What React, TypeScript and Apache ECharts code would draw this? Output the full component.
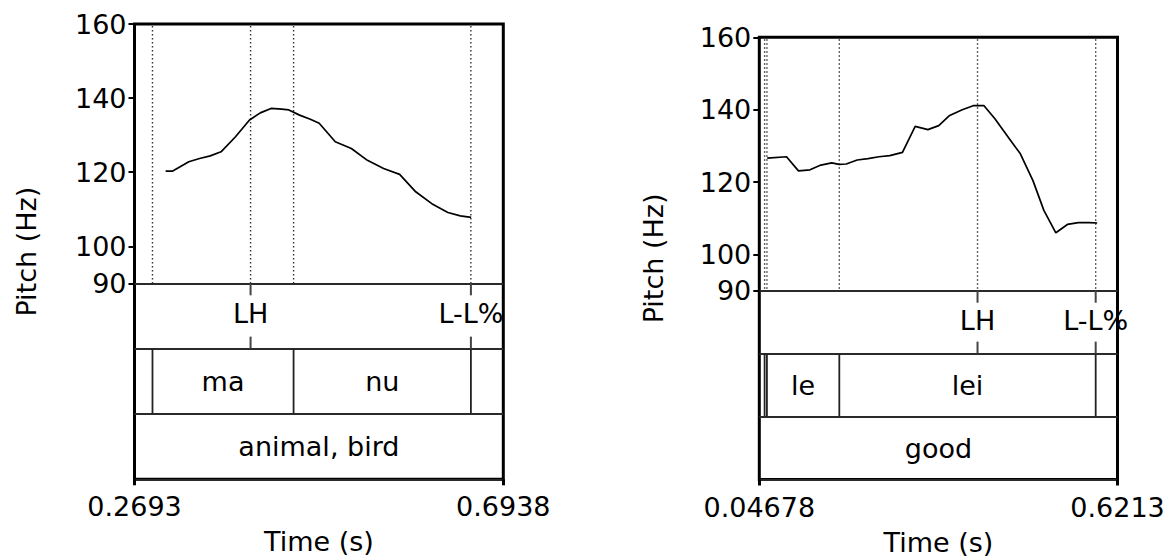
import React, { useEffect, useRef } from 'react';
import * as echarts from 'echarts';

const FONT = "'DejaVu Sans', 'Liberation Sans', Arial, sans-serif";
const FS = 27;

// ---------- shared ----------
const pitchRange = [90, 160];
const pitchTickValues = [90, 100, 120, 140, 160];
const pitchAxisTitle = 'Pitch (Hz)';
const timeAxisTitle = 'Time (s)';

// ---------- left panel ----------
const leftTimeRange = [0.2693, 0.6938];
const leftTimeTickLabels = ['0.2693', '0.6938'];
const leftPitchTime = [
  0.3051, 0.3133, 0.3318, 0.3442, 0.3565, 0.3689, 0.3853, 0.4017, 0.4141, 0.4264,
  0.4387, 0.447, 0.4593, 0.4717, 0.4819, 0.5004, 0.5189, 0.5374, 0.556, 0.5745,
  0.593, 0.6115, 0.63, 0.6444, 0.6568,
];
const leftPitchHz = [
  120.3, 120.3, 122.8, 123.7, 124.4, 125.5, 129.5, 134.1, 136.0, 137.2,
  137.0, 136.8, 135.4, 134.3, 133.2, 128.2, 126.4, 123.2, 121.0, 119.4,
  114.7, 111.5, 109.1, 108.2, 107.8,
];
const leftToneTimes = [0.4029, 0.6565];
const leftToneLabels = ['LH', 'L-L%'];
const leftSyllableBounds = [0.29, 0.4524, 0.6565];
const leftSyllableLabels = ['ma', 'nu'];
const leftWordLabel = 'animal, bird';

// ---------- right panel ----------
const rightTimeRange = [0.04678, 0.6213];
const rightTimeTickLabels = ['0.04678', '0.6213'];
const rightPitchTime = [
  0.0595, 0.0904, 0.1096, 0.1281, 0.1455, 0.163, 0.1747, 0.1863, 0.2038, 0.2212,
  0.2387, 0.2561, 0.2764, 0.2968, 0.3172, 0.3346, 0.3521, 0.3723, 0.3898, 0.4072,
  0.4247, 0.4481, 0.4655, 0.4857, 0.5032, 0.5224, 0.541, 0.5585, 0.5759, 0.5887,
];
const rightPitchHz = [
  126.6, 127.0, 123.1, 123.4, 124.7, 125.3, 124.9, 125.0, 126.1, 126.5,
  127.0, 127.3, 128.2, 135.4, 134.5, 135.6, 138.4, 140.0, 141.1, 141.1,
  137.5, 131.9, 127.8, 120.4, 112.2, 106.0, 108.3, 108.8, 108.8, 108.7,
];
const rightToneTimes = [0.3968, 0.5863];
const rightToneLabels = ['LH', 'L-L%'];
const rightSyllableBounds = [0.0553, 0.059, 0.1751, 0.5863];
const rightSyllableLabels = ['', 'le', 'lei'];
const rightWordLabel = 'good';

type Panel = {
  range: number[];
  tickLabels: string[];
  pitchTime: number[];
  pitchHz: number[];
  toneTimes: number[];
  toneLabels: string[];
  syllBounds: number[];
  syllLabels: string[];
  word: string;
  box: { left: number; width: number; top: number; mid: number; bottom: number; titleGap: number };
};

const panels: Panel[] = [
  {
    range: leftTimeRange, tickLabels: leftTimeTickLabels,
    pitchTime: leftPitchTime, pitchHz: leftPitchHz,
    toneTimes: leftToneTimes, toneLabels: leftToneLabels,
    syllBounds: leftSyllableBounds, syllLabels: leftSyllableLabels, word: leftWordLabel,
    box: { left: 134.5, width: 368.8, top: 24, mid: 283.3, bottom: 479.3, titleGap: 95 },
  },
  {
    range: rightTimeRange, tickLabels: rightTimeTickLabels,
    pitchTime: rightPitchTime, pitchHz: rightPitchHz,
    toneTimes: rightToneTimes, toneLabels: rightToneLabels,
    syllBounds: rightSyllableBounds, syllLabels: rightSyllableLabels, word: rightWordLabel,
    box: { left: 759.3, width: 358.2, top: 37.3, mid: 290.7, bottom: 479.5, titleGap: 92 },
  },
];

const textStyle = (text: string, size = FS) => ({
  text,
  fill: '#000',
  fontSize: size,
  fontFamily: FONT,
  align: 'center',
  verticalAlign: 'middle',
  textAlign: 'center',
  textVerticalAlign: 'middle',
});

function buildOption() {
  const grid: any[] = [];
  const xAxis: any[] = [];
  const yAxis: any[] = [];
  const series: any[] = [];

  panels.forEach((p, pi) => {
    const b = p.box;
    const gFrame = pi * 3;
    const gPitch = pi * 3 + 1;
    const gTier = pi * 3 + 2;

    grid.push({
      left: b.left, top: b.top, width: b.width, height: b.bottom - b.top,
      show: true, borderColor: '#000', borderWidth: 3, backgroundColor: 'transparent',
      containLabel: false, outerBoundsMode: 'none',
    });
    grid.push({
      left: b.left, top: b.top, width: b.width, height: b.mid - b.top,
      containLabel: false, outerBoundsMode: 'none',
    });
    grid.push({
      left: b.left, top: b.mid, width: b.width, height: b.bottom - b.mid,
      containLabel: false, outerBoundsMode: 'none',
    });

    const nearestLabel = (v: number) => {
      let best = 0;
      p.range.forEach((r, i) => {
        if (Math.abs(r - v) < Math.abs(p.range[best] - v)) best = i;
      });
      return p.tickLabels[best];
    };

    // frame axes
    xAxis.push({
      type: 'value', gridIndex: gFrame, min: p.range[0], max: p.range[1],
      axisLine: { show: false }, splitLine: { show: false },
      axisTick: { show: true, customValues: p.range, length: 6, lineStyle: { color: '#000', width: 3 } },
      axisLabel: {
        show: true, customValues: p.range, formatter: (v: number) => nearestLabel(v),
        fontSize: FS, fontFamily: FONT, color: '#000', margin: 14,
        showMinLabel: true, showMaxLabel: true, hideOverlap: false,
      },
      name: timeAxisTitle, nameLocation: 'middle', nameGap: 49,
      nameTextStyle: { fontSize: FS, fontFamily: FONT, color: '#000' },
    });
    yAxis.push({
      type: 'value', gridIndex: gFrame, min: 0, max: 1,
      axisLine: { show: false }, axisTick: { show: false }, axisLabel: { show: false },
      splitLine: { show: false },
      name: pitchAxisTitle, nameLocation: 'middle', nameRotate: 90, nameGap: b.titleGap,
      nameTextStyle: { fontSize: FS, fontFamily: FONT, color: '#000' },
    });

    // pitch axes
    xAxis.push({ type: 'value', gridIndex: gPitch, min: p.range[0], max: p.range[1], show: false });
    yAxis.push({
      type: 'value', gridIndex: gPitch, min: pitchRange[0], max: pitchRange[1],
      axisLine: { show: false }, splitLine: { show: false },
      axisTick: { show: true, customValues: pitchTickValues, length: 6, lineStyle: { color: '#000', width: 2 } },
      axisLabel: {
        show: true, customValues: pitchTickValues, fontSize: FS, fontFamily: FONT,
        color: '#000', margin: 8, showMinLabel: true, showMaxLabel: true, hideOverlap: false,
      },
    });

    // tier axes
    xAxis.push({ type: 'value', gridIndex: gTier, min: p.range[0], max: p.range[1], show: false });
    yAxis.push({
      type: 'value', gridIndex: gTier, min: 0, max: 3, interval: 1,
      axisLine: { show: false }, axisTick: { show: false }, axisLabel: { show: false },
      splitLine: { show: true, lineStyle: { color: '#2a2a2a', width: 2 } },
    });

    const axPitch = { xAxisIndex: gPitch, yAxisIndex: gPitch };
    const axTier = { xAxisIndex: gTier, yAxisIndex: gTier };

    // pitch contour
    series.push({
      type: 'line', ...axPitch, z: 5,
      data: p.pitchTime.map((t, i) => [t, p.pitchHz[i]]),
      symbol: 'none', showSymbol: false, smooth: false,
      lineStyle: { color: '#000', width: 1.7 },
      silent: true,
    });

    // dotted boundary lines in the pitch area
    const dotted = Array.from(new Set([...p.syllBounds, ...p.toneTimes])).sort((a, b) => a - b);
    series.push({
      type: 'custom', ...axPitch, clip: false, silent: true, z: 3,
      data: dotted.map((t) => [t, pitchRange[0]]),
      encode: { x: 0, y: 1 },
      renderItem: (_params: any, api: any) => {
        const t = api.value(0);
        const a = api.coord([t, pitchRange[1]]);
        const c = api.coord([t, pitchRange[0]]);
        return {
          type: 'line',
          shape: { x1: a[0], y1: a[1] + 2, x2: c[0], y2: c[1] },
          style: { stroke: '#333', lineWidth: 1.4, lineDash: [1.5, 2.5] },
        };
      },
    });

    // tone tier (point tier)
    series.push({
      type: 'custom', ...axTier, clip: false, silent: true, z: 6,
      data: p.toneTimes.map((t) => [t, 2.5]),
      encode: { x: 0, y: 1 },
      renderItem: (params: any, api: any) => {
        const t = api.value(0);
        const top = api.coord([t, 3]);
        const bot = api.coord([t, 2]);
        const mid = api.coord([t, 2.5]);
        const ls = { stroke: '#444', lineWidth: 2 };
        return {
          type: 'group',
          children: [
            { type: 'line', shape: { x1: top[0], y1: top[1], x2: top[0], y2: top[1] + 12 }, style: ls },
            { type: 'line', shape: { x1: bot[0], y1: bot[1] - 12, x2: bot[0], y2: bot[1] }, style: ls },
            { type: 'text', x: mid[0], y: mid[1] - 2, style: textStyle(p.toneLabels[params.dataIndex]) },
          ],
        };
      },
    });

    // syllable tier boundaries
    series.push({
      type: 'custom', ...axTier, clip: false, silent: true, z: 4,
      data: p.syllBounds.map((t) => [t, 1.5]),
      encode: { x: 0, y: 1 },
      renderItem: (_params: any, api: any) => {
        const t = api.value(0);
        const a = api.coord([t, 2]);
        const c = api.coord([t, 1]);
        return {
          type: 'line',
          shape: { x1: a[0], y1: a[1], x2: c[0], y2: c[1] },
          style: { stroke: '#222', lineWidth: 1.8 },
        };
      },
    });

    // syllable tier labels
    const syllMids = p.syllLabels.map((_, i) => (p.syllBounds[i] + p.syllBounds[i + 1]) / 2);
    series.push({
      type: 'custom', ...axTier, clip: false, silent: true, z: 6,
      data: syllMids.map((t) => [t, 1.5]),
      encode: { x: 0, y: 1 },
      renderItem: (params: any, api: any) => {
        const c = api.coord([api.value(0), 1.5]);
        return { type: 'text', x: c[0], y: c[1], style: textStyle(p.syllLabels[params.dataIndex]) };
      },
    });

    // word tier label
    series.push({
      type: 'custom', ...axTier, clip: false, silent: true, z: 6,
      data: [[(p.range[0] + p.range[1]) / 2, 0.5]],
      encode: { x: 0, y: 1 },
      renderItem: (_params: any, api: any) => {
        const c = api.coord([api.value(0), 0.5]);
        return { type: 'text', x: c[0], y: c[1], style: textStyle(p.word) };
      },
    });
  });

  return {
    animation: false,
    backgroundColor: '#fff',
    textStyle: { fontFamily: FONT },
    grid,
    xAxis,
    yAxis,
    series,
  };
}

export default function App() {
  const ref = useRef<HTMLDivElement>(null);
  useEffect(() => {
    if (!ref.current) return;
    const chart = echarts.init(ref.current, undefined, { renderer: 'svg' });
    chart.setOption(buildOption() as any);
    return () => chart.dispose();
  }, []);
  return (
    <div
      ref={ref}
      style={{ position: 'absolute', left: 0, top: 0, width: 1167, height: 559, background: '#fff' }}
    />
  );
}
